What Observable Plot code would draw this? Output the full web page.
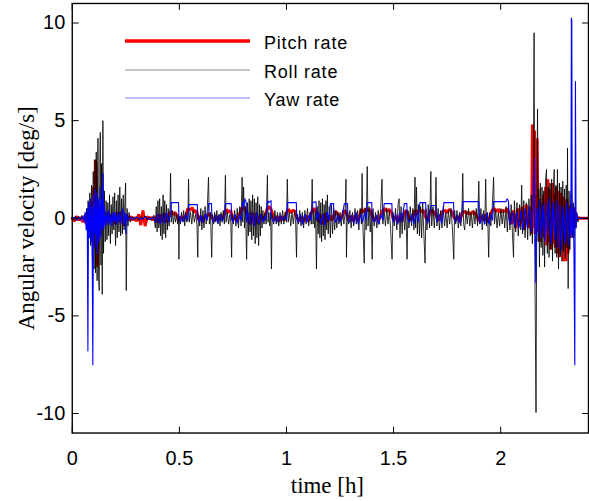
<!DOCTYPE html>
<html><head><meta charset="utf-8">
<script src="https://cdn.jsdelivr.net/npm/d3@7"></script>
<script src="https://cdn.jsdelivr.net/npm/@observablehq/plot@0.6"></script>
<style>
html,body{margin:0;padding:0;overflow:hidden;background:#fff;}
#wrap{position:relative;width:589px;height:501px;overflow:hidden;}
#wrap svg{display:block;}
#legend{position:absolute;left:0;top:0;}
</style></head><body><div id="wrap"></div>
<script>
const xTicks = [0, 0.5, 1, 1.5, 2];
const yTicks = [-10, -5, 0, 5, 10];
const xLabel = "time [h]";
const yLabel = "Angular velocity [deg/s]";
const seriesNames = ["Pitch rate", "Roll rate", "Yaw rate"];
const seriesColors = ["#ff0000", "#000000", "#0000ff"];

// [time (h), angular velocity (deg/s)]
const pitch = [[0,0],[0.01,-0.15],[0.02,0.1],[0.03,-0.1],[0.04,0.05],[0.05,-0.2],[0.06,0.15],[0.065,-0.3],[0.07,0.3],[0.075,-0.4],[0.08,0.5],[0.085,-0.6],[0.09,0.8],[0.095,-1.0],[0.1,1.6],[0.105,-1.5],[0.108,3.0],[0.111,2.8],[0.113,-1.0],[0.116,-2.5],[0.12,-1.2],[0.124,0.6],[0.128,-0.8],[0.132,0.5],[0.136,-0.4],[0.14,0.4],[0.145,-0.3],[0.15,0.3],[0.16,-0.2],[0.17,0.25],[0.18,-0.15],[0.19,0.2],[0.2,-0.3],[0.21,0.3],[0.22,-0.2],[0.23,0.35],[0.24,-0.4],[0.25,0.2],[0.26,-0.1],[0.27,0.1],[0.28,-0.1],[0.29,0.05],[0.3,-0.15],[0.31,0.2],[0.32,-0.35],[0.33,0.4],[0.34,-0.4],[0.35,0.1],[0.36,-0.05],[0.37,0.05],[0.38,-0.1],[0.39,0.1],[0.4,-0.2],[0.41,0.2],[0.42,-0.15],[0.43,0.25],[0.44,-0.2],[0.45,0.15],[0.46,0.35],[0.47,0.2],[0.48,0.3],[0.49,0.1],[0.5,-0.15],[0.51,0.1],[0.52,-0.1],[0.53,0.15],[0.54,0.5],[0.55,0.4],[0.56,0.55],[0.57,0.3],[0.58,0.4],[0.59,-0.1],[0.6,0.1],[0.61,-0.2],[0.62,0.15],[0.63,0.1],[0.64,0.25],[0.65,0.1],[0.66,-0.15],[0.67,0.1],[0.68,-0.1],[0.69,0.15],[0.7,-0.05],[0.71,0.2],[0.72,0.45],[0.73,0.3],[0.74,0.4],[0.75,-0.1],[0.76,0.1],[0.77,-0.15],[0.78,0.2],[0.79,0.5],[0.8,0.6],[0.81,0.4],[0.82,0.1],[0.83,-0.3],[0.84,0.3],[0.85,-0.35],[0.86,0.25],[0.87,-0.3],[0.88,0.2],[0.89,-0.1],[0.9,0.1],[0.91,0.5],[0.92,0.6],[0.93,0.4],[0.94,0.05],[0.95,-0.1],[0.96,0.1],[0.97,-0.15],[0.98,0.1],[0.99,-0.1],[1.0,0.3],[1.01,0.45],[1.02,0.3],[1.03,0.4],[1.04,0.35],[1.05,0.0],[1.06,-0.15],[1.07,0.1],[1.08,-0.2],[1.09,0.15],[1.1,-0.15],[1.11,0.1],[1.12,0.4],[1.13,0.5],[1.14,0.3],[1.15,-0.2],[1.16,0.2],[1.17,-0.3],[1.18,0.25],[1.19,-0.2],[1.2,0.15],[1.21,-0.1],[1.22,0.1],[1.23,0.35],[1.24,0.2],[1.25,-0.1],[1.26,0.1],[1.27,0.4],[1.28,0.3],[1.29,-0.1],[1.3,0.1],[1.31,-0.15],[1.32,0.15],[1.33,-0.1],[1.34,0.1],[1.35,0.45],[1.36,0.3],[1.37,0.5],[1.38,0.4],[1.39,0.45],[1.4,0.1],[1.41,-0.15],[1.42,0.1],[1.43,-0.1],[1.44,0.15],[1.45,0.4],[1.46,0.5],[1.47,0.35],[1.48,0.45],[1.49,0.3],[1.5,-0.1],[1.51,0.1],[1.52,-0.2],[1.53,0.2],[1.54,-0.15],[1.55,0.3],[1.56,0.4],[1.57,0.1],[1.58,-0.1],[1.59,0.1],[1.6,0.4],[1.61,0.2],[1.62,0.45],[1.63,0.35],[1.64,0.4],[1.65,0.05],[1.66,-0.1],[1.67,0.35],[1.68,0.4],[1.69,0.3],[1.7,0.1],[1.71,-0.1],[1.72,0.1],[1.73,0.35],[1.74,0.4],[1.75,0.3],[1.76,0.45],[1.77,0.35],[1.78,0.1],[1.79,-0.1],[1.8,0.1],[1.81,-0.15],[1.82,0.3],[1.83,0.35],[1.84,0.25],[1.85,0.3],[1.86,0.2],[1.87,0.35],[1.88,0.25],[1.89,0.1],[1.9,-0.15],[1.91,0.1],[1.92,-0.1],[1.93,0.2],[1.94,-0.2],[1.95,0.1],[1.96,0.4],[1.97,0.5],[1.98,0.35],[1.99,0.45],[2.0,0.3],[2.01,0.4],[2.02,0.35],[2.03,0.5],[2.04,0.2],[2.05,-0.3],[2.06,0.4],[2.07,-0.5],[2.08,0.5],[2.09,-0.4],[2.1,0.6],[2.11,-0.6],[2.12,0.7],[2.13,-0.5],[2.14,0.6],[2.145,-0.8],[2.148,4.8],[2.153,-0.5],[2.158,4.5],[2.162,-0.8],[2.17,4.1],[2.174,-0.7],[2.18,1.0],[2.185,-1.2],[2.19,0.8],[2.195,-0.9],[2.2,1.2],[2.205,-1.0],[2.21,1.6],[2.215,-1.4],[2.22,2.0],[2.225,-1.2],[2.23,1.5],[2.235,-1.6],[2.24,1.8],[2.245,-1.3],[2.25,1.2],[2.255,-1.5],[2.26,1.6],[2.265,-1.8],[2.27,1.4],[2.275,-2.0],[2.28,1.3],[2.285,-1.6],[2.29,1.1],[2.295,-2.2],[2.3,0.9],[2.305,-2.2],[2.31,1.0],[2.315,-1.8],[2.32,0.6],[2.325,-1.0],[2.33,0.7],[2.335,-0.8],[2.34,0.5],[2.345,-0.4],[2.35,0.3],[2.355,-0.1],[2.36,0.05],[2.37,0],[2.41,0]];

const roll = [[0,0.05],[0.008,-0.1],[0.015,0.12],[0.022,-0.08],[0.03,0.1],[0.037,-0.12],[0.045,0.15],[0.052,-0.1],[0.058,0.2],[0.063,-0.3],[0.067,0.5],[0.07,-0.6],[0.074,0.9],[0.078,-1.0],[0.082,1.3],[0.086,-1.4],[0.09,1.7],[0.094,-2.0],[0.098,2.4],[0.102,-2.6],[0.106,3.0],[0.109,-2.8],[0.112,3.4],[0.116,-3.2],[0.12,4.1],[0.123,-3.0],[0.126,-3.7],[0.129,3.2],[0.131,4.4],[0.134,-2.4],[0.137,2.8],[0.14,-3.9],[0.143,5.0],[0.146,-1.8],[0.15,1.4],[0.154,-1.2],[0.158,0.9],[0.162,-1.1],[0.166,0.8],[0.17,-0.9],[0.174,1.2],[0.178,-1.3],[0.182,0.7],[0.186,-0.8],[0.19,1.1],[0.194,-0.6],[0.198,1.3],[0.202,-1.4],[0.206,0.9],[0.21,-1.0],[0.214,1.2],[0.218,-0.7],[0.222,1.6],[0.226,-0.9],[0.23,1.0],[0.234,-0.8],[0.238,1.2],[0.242,-0.6],[0.246,0.9],[0.249,1.8],[0.252,-3.7],[0.256,0.5],[0.26,-0.4],[0.265,0.3],[0.27,-0.2],[0.28,0.1],[0.29,-0.1],[0.3,0.08],[0.31,-0.12],[0.32,0.1],[0.33,-0.08],[0.34,0.12],[0.35,-0.1],[0.36,0.08],[0.37,-0.12],[0.38,0.15],[0.388,-0.5],[0.392,0.6],[0.396,-0.7],[0.4,0.9],[0.404,-0.5],[0.408,1.0],[0.412,-0.9],[0.416,0.6],[0.42,-1.1],[0.424,1.2],[0.428,-0.8],[0.432,0.9],[0.436,-1.0],[0.44,0.7],[0.444,-0.6],[0.448,0.5],[0.452,-0.4],[0.456,0.3],[0.459,2.3],[0.462,-0.2],[0.467,0.4],[0.472,-0.3],[0.477,0.3],[0.482,-0.2],[0.487,0.2],[0.492,-0.3],[0.496,0.2],[0.498,-2.1],[0.5,0.1],[0.505,-0.3],[0.51,0.3],[0.515,-0.2],[0.52,0.4],[0.525,-0.4],[0.53,0.3],[0.535,-0.2],[0.54,0.3],[0.543,2.0],[0.546,-0.2],[0.552,0.3],[0.558,-0.3],[0.564,0.4],[0.57,-0.2],[0.576,0.2],[0.582,-0.3],[0.586,-2.0],[0.589,0.2],[0.595,-0.4],[0.6,0.5],[0.605,-0.6],[0.61,0.4],[0.615,-0.5],[0.62,0.6],[0.625,-0.3],[0.63,0.4],[0.636,2.1],[0.64,-0.3],[0.645,0.3],[0.651,-2.0],[0.655,0.2],[0.66,-0.3],[0.665,0.3],[0.67,-0.2],[0.675,0.4],[0.68,-0.3],[0.685,0.2],[0.69,-0.4],[0.695,0.3],[0.7,-0.2],[0.705,0.4],[0.71,-0.3],[0.715,2.2],[0.718,-0.2],[0.724,0.3],[0.73,-0.3],[0.736,0.2],[0.74,-0.2],[0.744,-2.0],[0.747,0.2],[0.752,-0.3],[0.758,0.4],[0.764,-0.4],[0.77,0.5],[0.776,-0.5],[0.782,0.6],[0.788,-0.4],[0.793,2.1],[0.796,-0.2],[0.8,1.6],[0.804,-0.5],[0.808,0.6],[0.811,-0.6],[0.814,-2.1],[0.818,0.8],[0.822,-0.9],[0.826,1.0],[0.83,-0.7],[0.834,0.9],[0.838,-1.1],[0.842,1.2],[0.846,-0.9],[0.85,1.0],[0.854,-1.3],[0.858,0.8],[0.862,-1.0],[0.866,1.1],[0.87,-1.4],[0.874,0.7],[0.878,-0.9],[0.882,0.6],[0.886,-0.5],[0.89,0.4],[0.895,-0.3],[0.9,0.3],[0.905,-0.3],[0.911,2.2],[0.914,-0.2],[0.918,0.3],[0.922,-0.4],[0.926,0.3],[0.93,-2.6],[0.933,0.2],[0.94,-0.3],[0.946,0.4],[0.952,-0.3],[0.958,0.3],[0.964,-0.4],[0.97,0.3],[0.976,-0.3],[0.982,0.4],[0.988,-0.3],[0.994,0.3],[1.0,-0.2],[1.004,2.0],[1.008,-0.2],[1.014,0.3],[1.02,-0.4],[1.026,0.3],[1.032,-0.3],[1.038,0.4],[1.043,-0.3],[1.047,-2.0],[1.05,0.2],[1.056,-0.3],[1.062,0.4],[1.068,-0.4],[1.074,0.3],[1.08,-0.5],[1.086,0.4],[1.092,-0.3],[1.098,0.5],[1.104,-0.4],[1.11,0.3],[1.116,-0.3],[1.12,2.0],[1.124,-0.3],[1.128,0.4],[1.132,-0.5],[1.136,0.3],[1.14,-2.6],[1.144,0.6],[1.148,-0.8],[1.152,0.9],[1.156,-1.0],[1.16,0.8],[1.164,-1.2],[1.168,1.0],[1.172,-0.9],[1.176,0.7],[1.18,-1.1],[1.184,0.9],[1.188,-0.6],[1.191,1.2],[1.195,-0.8],[1.2,0.6],[1.205,-1.0],[1.21,0.7],[1.215,-0.8],[1.22,0.5],[1.225,-0.6],[1.23,0.4],[1.235,-0.5],[1.24,0.3],[1.245,-0.3],[1.25,0.3],[1.256,-0.4],[1.262,0.4],[1.268,-0.3],[1.274,0.3],[1.278,2.0],[1.28,-2.0],[1.284,0.3],[1.29,-0.3],[1.296,0.4],[1.302,-0.5],[1.308,0.3],[1.314,-0.4],[1.32,0.5],[1.326,-0.3],[1.332,0.4],[1.338,-0.6],[1.344,0.5],[1.35,-0.3],[1.353,2.3],[1.357,-0.4],[1.363,-2.3],[1.367,0.5],[1.372,-0.6],[1.377,2.65],[1.381,-0.4],[1.386,0.6],[1.391,-0.7],[1.396,0.4],[1.4,-2.1],[1.404,0.5],[1.41,-0.4],[1.416,0.3],[1.422,-0.5],[1.428,0.4],[1.434,-0.3],[1.44,0.5],[1.446,2.0],[1.45,-0.3],[1.456,0.4],[1.462,-0.4],[1.468,0.5],[1.474,-0.3],[1.48,0.4],[1.486,-0.5],[1.493,-2.1],[1.497,0.3],[1.503,-0.4],[1.509,0.5],[1.515,-0.6],[1.521,0.7],[1.526,1.0],[1.53,-1.0],[1.535,0.6],[1.54,-0.8],[1.546,0.5],[1.552,-0.6],[1.558,0.4],[1.563,-2.1],[1.567,0.4],[1.572,-0.5],[1.578,0.6],[1.584,-0.4],[1.59,0.5],[1.595,-0.6],[1.6,2.1],[1.603,-0.5],[1.607,1.6],[1.611,-0.8],[1.616,0.7],[1.621,-0.9],[1.626,0.6],[1.631,-1.0],[1.636,0.8],[1.641,-0.7],[1.644,-1.5],[1.647,-2.3],[1.651,0.5],[1.656,-0.6],[1.662,0.7],[1.668,-0.5],[1.674,2.4],[1.678,-0.4],[1.684,0.6],[1.69,-0.5],[1.695,0.4],[1.698,2.1],[1.702,-0.4],[1.708,0.5],[1.714,-0.6],[1.72,0.4],[1.726,-0.5],[1.732,0.6],[1.738,-0.4],[1.744,0.3],[1.75,-0.5],[1.756,0.4],[1.762,-0.3],[1.768,0.5],[1.774,-0.4],[1.781,-2.1],[1.785,0.4],[1.79,-0.3],[1.796,0.4],[1.802,-0.5],[1.808,0.3],[1.814,-0.4],[1.819,0.3],[1.823,2.3],[1.827,-0.3],[1.832,-0.6],[1.838,0.4],[1.844,-0.3],[1.85,0.5],[1.856,-0.4],[1.862,0.3],[1.868,-0.5],[1.874,0.4],[1.88,-0.3],[1.886,0.5],[1.892,-0.4],[1.898,1.9],[1.902,-0.3],[1.908,0.5],[1.914,-0.6],[1.92,0.4],[1.926,-0.3],[1.93,2.0],[1.934,-0.4],[1.939,0.3],[1.944,-2.0],[1.948,0.3],[1.954,-0.4],[1.96,0.4],[1.967,2.1],[1.971,-0.3],[1.977,0.4],[1.983,-0.5],[1.989,0.3],[1.995,-0.4],[2.001,0.5],[2.007,-0.3],[2.013,0.4],[2.019,-0.5],[2.025,0.6],[2.031,-0.7],[2.037,0.8],[2.043,-0.6],[2.049,0.7],[2.055,-0.8],[2.06,-2.0],[2.064,0.9],[2.07,-0.7],[2.076,0.8],[2.082,-0.9],[2.088,0.7],[2.094,-0.6],[2.098,1.7],[2.102,-0.8],[2.108,0.9],[2.114,-1.0],[2.12,0.8],[2.126,-1.1],[2.132,1.0],[2.138,-0.9],[2.143,1.2],[2.148,-1.3],[2.152,1.5],[2.156,9.5],[2.16,-3.0],[2.165,-9.95],[2.168,-1.0],[2.172,5.6],[2.175,-1.2],[2.178,1.5],[2.181,-2.5],[2.185,1.8],[2.189,-1.5],[2.193,1.6],[2.197,-1.9],[2.201,1.4],[2.205,-2.5],[2.209,1.9],[2.214,2.5],[2.218,-1.8],[2.222,1.6],[2.226,-2.0],[2.23,1.8],[2.234,-1.6],[2.238,2.0],[2.242,-2.2],[2.246,1.5],[2.25,2.5],[2.254,-1.8],[2.258,1.7],[2.262,-2.0],[2.265,2.5],[2.27,-2.6],[2.274,1.8],[2.278,-1.9],[2.282,1.6],[2.286,-2.2],[2.29,1.9],[2.294,-1.7],[2.298,1.5],[2.302,-2.0],[2.306,1.7],[2.31,-1.5],[2.312,3.6],[2.315,-3.6],[2.319,1.4],[2.323,-1.6],[2.327,1.2],[2.331,1.5],[2.335,-1.0],[2.339,0.8],[2.343,-1.0],[2.347,0.6],[2.351,-0.5],[2.355,0.3],[2.36,-0.2],[2.37,0.05],[2.38,0],[2.41,0]];

const yaw = [[0,0],[0.01,0.05],[0.02,-0.1],[0.03,0.05],[0.04,-0.05],[0.05,0.1],[0.055,-0.2],[0.06,0.3],[0.065,-0.6],[0.07,0.5],[0.073,-6.8],[0.076,0.8],[0.08,-1.0],[0.084,1.0],[0.088,-1.2],[0.092,0.6],[0.096,-7.5],[0.099,1.2],[0.103,-0.8],[0.107,1.5],[0.11,-1.5],[0.114,1.3],[0.118,-1.8],[0.122,1.0],[0.126,-1.2],[0.13,1.6],[0.134,-1.0],[0.138,0.9],[0.141,-0.6],[0.144,2.3],[0.147,-0.5],[0.15,0.6],[0.155,-0.4],[0.16,0.3],[0.165,-0.3],[0.17,0.4],[0.175,-0.3],[0.18,0.2],[0.185,-0.4],[0.19,0.3],[0.195,-0.2],[0.2,0.3],[0.205,-0.3],[0.21,0.2],[0.215,-0.2],[0.22,0.3],[0.225,-0.3],[0.23,0.2],[0.235,0.5],[0.24,-0.3],[0.245,0.3],[0.25,-0.8],[0.253,0.2],[0.26,-0.1],[0.27,0.05],[0.28,-0.05],[0.3,0.05],[0.32,-0.05],[0.34,0.05],[0.36,-0.05],[0.38,0.05],[0.39,-0.2],[0.4,0.2],[0.41,-0.3],[0.42,0.2],[0.43,-0.25],[0.44,0.3],[0.45,-0.2],[0.455,0.1],[0.46,0.1],[0.462,0.8],[0.496,0.8],[0.498,0.05],[0.505,-0.2],[0.51,0.1],[0.52,-0.15],[0.53,0.2],[0.54,-0.1],[0.544,0.7],[0.584,0.7],[0.586,0.0],[0.595,-0.2],[0.6,0.15],[0.61,-0.2],[0.62,0.2],[0.63,-0.1],[0.637,0.75],[0.65,0.75],[0.652,0.0],[0.66,-0.2],[0.67,0.15],[0.68,-0.25],[0.69,0.2],[0.7,-0.15],[0.71,0.1],[0.716,0.75],[0.742,0.75],[0.744,0.0],[0.75,-0.2],[0.76,0.2],[0.77,-0.25],[0.78,0.15],[0.79,-0.1],[0.795,0.85],[0.8,0.6],[0.806,1.0],[0.812,0.8],[0.814,-0.2],[0.82,0.3],[0.83,-0.3],[0.84,0.25],[0.85,-0.4],[0.86,0.3],[0.87,-0.3],[0.88,0.2],[0.89,-0.2],[0.9,0.1],[0.905,-0.1],[0.912,0.9],[0.918,0.8],[0.928,0.9],[0.93,0.0],[0.94,-0.2],[0.95,0.1],[0.96,-0.2],[0.97,0.15],[0.98,-0.1],[0.99,0.1],[1.0,-0.1],[1.005,0.8],[1.046,0.8],[1.048,0.0],[1.055,-0.25],[1.065,0.2],[1.075,-0.3],[1.085,0.2],[1.095,-0.2],[1.105,0.15],[1.115,-0.1],[1.121,0.8],[1.138,0.85],[1.14,-0.1],[1.15,0.3],[1.16,-0.3],[1.17,0.2],[1.18,-0.35],[1.19,0.3],[1.2,-0.1],[1.205,0.75],[1.22,0.75],[1.222,0.0],[1.23,-0.2],[1.24,0.15],[1.25,-0.2],[1.26,0.1],[1.27,0.75],[1.285,0.75],[1.287,0.0],[1.295,-0.2],[1.305,0.15],[1.315,-0.25],[1.325,0.3],[1.335,-0.3],[1.345,0.2],[1.355,-0.2],[1.365,0.3],[1.372,-0.1],[1.377,0.8],[1.398,0.8],[1.4,0.0],[1.41,-0.2],[1.42,0.15],[1.43,-0.3],[1.44,0.2],[1.45,-0.1],[1.456,0.75],[1.492,0.75],[1.494,0.0],[1.5,-0.2],[1.51,0.2],[1.52,-0.3],[1.53,0.3],[1.54,-0.2],[1.55,0.75],[1.562,0.75],[1.564,0.0],[1.575,-0.2],[1.585,0.2],[1.595,-0.3],[1.605,0.3],[1.615,-0.2],[1.623,0.8],[1.65,0.8],[1.652,0.0],[1.66,-0.25],[1.668,0.2],[1.674,0.65],[1.697,0.65],[1.699,0.0],[1.705,-0.2],[1.715,0.2],[1.725,-0.25],[1.73,0.1],[1.735,0.8],[1.78,0.8],[1.782,0.0],[1.79,-0.2],[1.8,0.15],[1.81,-0.25],[1.818,0.1],[1.823,0.85],[1.897,0.85],[1.899,0.0],[1.905,-0.25],[1.915,0.2],[1.925,-0.3],[1.935,0.25],[1.945,-0.3],[1.955,0.2],[1.962,-0.1],[1.967,0.85],[2.025,0.85],[2.03,1.0],[2.036,0.9],[2.038,0.0],[2.045,-0.3],[2.055,0.3],[2.065,-0.4],[2.075,0.3],[2.085,-0.5],[2.095,0.4],[2.105,-0.6],[2.115,0.5],[2.125,-0.5],[2.135,0.6],[2.145,-0.7],[2.152,0.8],[2.158,3.1],[2.161,-1.0],[2.164,-3.3],[2.168,0.5],[2.175,-0.8],[2.182,0.9],[2.19,-1.0],[2.198,0.7],[2.205,-1.2],[2.212,0.8],[2.22,-0.9],[2.228,1.0],[2.236,-1.3],[2.244,0.8],[2.252,-1.1],[2.26,0.9],[2.268,-1.5],[2.276,0.7],[2.284,-1.6],[2.292,0.6],[2.3,-1.3],[2.308,0.8],[2.316,-1.4],[2.322,0.5],[2.328,-1.0],[2.33,10.25],[2.332,10.2],[2.334,-0.8],[2.338,0.5],[2.342,-1.6],[2.346,-7.5],[2.349,7.0],[2.352,-0.5],[2.356,0.2],[2.36,0],[2.41,0]];

const xDomain = [0, 2.41];
const yDomain = [-11, 11];

const tickShape = {draw(context, l) { context.moveTo(0, 0); context.lineTo(0, -l); }};
const sans = "'Liberation Sans', Arial, Helvetica, sans-serif";
const serif = "'Liberation Serif', 'Times New Roman', serif";

const chart = Plot.plot({
  width: 591, height: 501,
  marginLeft: 72, marginRight: 1, marginTop: 3, marginBottom: 67,
  style: {background: "#fff", overflow: "visible"},
  x: {domain: xDomain},
  y: {domain: yDomain},
  marks: [
    Plot.line(pitch, {x: d => d[0], y: d => d[1], stroke: seriesColors[0], strokeWidth: 3, strokeLinejoin: "miter"}),
    Plot.line(roll, {x: d => d[0], y: d => d[1], stroke: seriesColors[1], strokeWidth: 0.8}),
    Plot.line(yaw, {x: d => d[0], y: d => d[1], stroke: seriesColors[2], strokeWidth: 1.1}),
    Plot.frame({stroke: "#000", strokeWidth: 1.4}),
    Plot.vector(yTicks, {x: xDomain[0], y: d => d, rotate: 90, length: 6, anchor: "start", shape: tickShape, stroke: "#000", strokeWidth: 1}),
    Plot.vector(yTicks, {x: xDomain[1], y: d => d, rotate: -90, length: 6, anchor: "start", shape: tickShape, stroke: "#000", strokeWidth: 1}),
    Plot.vector(xTicks, {x: d => d, y: yDomain[0], rotate: 0, length: 6, anchor: "start", shape: tickShape, stroke: "#000", strokeWidth: 1}),
    Plot.vector(xTicks, {x: d => d, y: yDomain[1], rotate: 180, length: 6, anchor: "start", shape: tickShape, stroke: "#000", strokeWidth: 1}),
    Plot.axisX(xTicks, {tickSize: 0, tickPadding: 18, fontSize: 20, fontFamily: sans, label: null, tickFormat: d => String(d), fill: "#000"}),
    Plot.axisY(yTicks, {tickSize: 0, tickPadding: 7, fontSize: 20, fontFamily: sans, label: null, tickFormat: d => String(d), fill: "#000"}),
    Plot.text([xLabel], {text: d => d, frameAnchor: "bottom", textAnchor: "middle", dx: -3, dy: 60, fontSize: 23, fontFamily: serif, fill: "#000"}),
    Plot.text([yLabel], {text: d => d, frameAnchor: "left", textAnchor: "middle", rotate: -90, dx: -46, fontSize: 23, fontFamily: serif, fill: "#000"})
  ]
});

const wrap = document.getElementById("wrap");
wrap.appendChild(chart);

// legend overlay (inside the axes, top-left)
const legendRows = [
  {name: seriesNames[0], color: "#ff0000", width: 3.4, y: 41},
  {name: seriesNames[1], color: "#8c8c8c", width: 1, y: 70},
  {name: seriesNames[2], color: "#7f7fff", width: 1.2, y: 98}
];
const leg = d3.select(wrap).append("svg").attr("id", "legend").attr("width", 589).attr("height", 140);
const g = leg.selectAll("g").data(legendRows).join("g");
g.append("line").attr("x1", 125).attr("x2", 250).attr("y1", d => d.y).attr("y2", d => d.y)
  .attr("stroke", d => d.color).attr("stroke-width", d => d.width);
g.append("text").attr("x", 264).attr("y", d => d.y + 8).text(d => d.name)
  .attr("font-family", sans).attr("font-size", 18).attr("letter-spacing", "0.8px").attr("fill", "#000");
</script>
</body></html>
